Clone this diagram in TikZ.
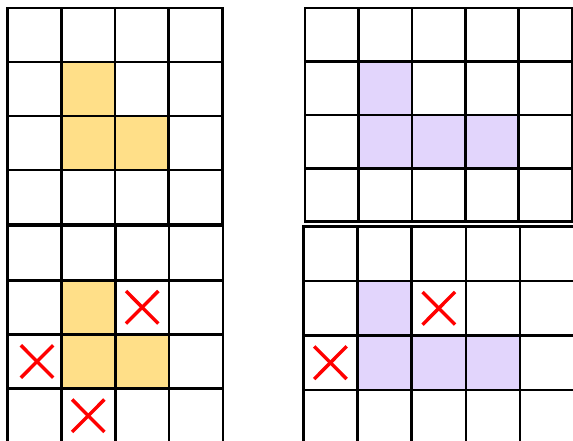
\documentclass[tikz,border=0pt]{standalone}
\definecolor{yelcell}{HTML}{FFDF88}
\definecolor{purcell}{HTML}{E2D5FC}
\definecolor{crossred}{HTML}{FF0000}
\tikzset{
  gridline/.style={line width=2.6pt, black, line cap=rect},
  crossmark/.style={crossred, line width=3.4pt},
  yelbox/.style={fill=yelcell},
  purbox/.style={fill=purcell},
}
\newcommand{\mygridlines}[2]{%
  \foreach \i in {0,...,#1} \draw[gridline] (\i,0) -- (\i,#2);
  \foreach \j in {0,...,#2} \draw[gridline] (0,\j) -- (#1,\j);
}
\newcommand{\mycross}[2]{%
  \draw[crossmark] (#1-0.3,#2-0.3) -- (#1+0.3,#2+0.3);
  \draw[crossmark] (#1-0.3,#2+0.3) -- (#1+0.3,#2-0.3);
}
\begin{document}
\begin{tikzpicture}[x=1pt,y=-1pt]
\useasboundingbox (0,0) rectangle (573,440);
\clip (0,0) rectangle (573,440);
\fill[white] (0,0) rectangle (573,440);
% top-left
\begin{scope}[xshift=7.5pt,yshift=-8pt,x=53.75pt,y=-54pt]
  \fill[yelbox] (1,1) rectangle (2,2);
  \fill[yelbox] (1,2) rectangle (2,3);
  \fill[yelbox] (2,2) rectangle (3,3);
  \mygridlines{4}{4}
\end{scope}
% top-right
\begin{scope}[xshift=305pt,yshift=-8pt,x=53.4pt,y=-53.4pt]
  \fill[purbox] (1,1) rectangle (2,2);
  \fill[purbox] (1,2) rectangle (4,3);
  \mygridlines{5}{4}
\end{scope}
% bottom-left
\begin{scope}[xshift=7.4pt,yshift=-226pt,x=53.9pt,y=-54.2pt]
  \fill[yelbox] (1,1) rectangle (2,2);
  \fill[yelbox] (1,2) rectangle (2,3);
  \fill[yelbox] (2,2) rectangle (3,3);
  \mygridlines{4}{5}
  \mycross{2.5}{1.5}
  \mycross{0.55}{2.5}
  \mycross{1.5}{3.5}
\end{scope}
% bottom-right
\begin{scope}[xshift=303.3pt,yshift=-226.7pt,x=54.2pt,y=-54.4pt]
  \fill[purbox] (1,1) rectangle (2,2);
  \fill[purbox] (1,2) rectangle (4,3);
  \mygridlines{6}{5}
  \mycross{2.5}{1.5}
  \mycross{0.5}{2.5}
\end{scope}
\end{tikzpicture}
\end{document}
